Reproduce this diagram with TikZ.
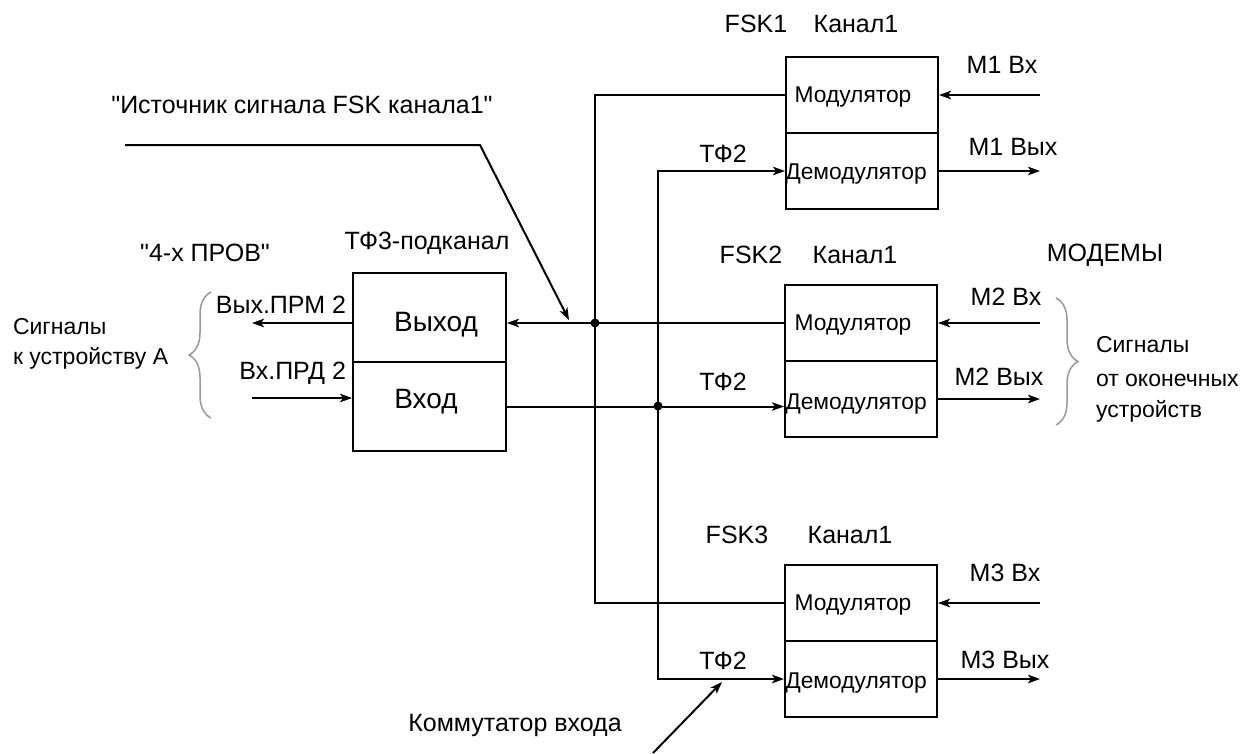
\documentclass[tikz,border=0pt]{standalone}
\usepackage{fontspec}
\setmainfont{Liberation Sans}[Ligatures=TeXOff]
\usetikzlibrary{arrows.meta,decorations.pathreplacing}
\begin{document}
\begin{tikzpicture}[x=1pt,y=-1pt,line width=2pt,
  >={Stealth[length=12pt,width=8.5pt,inset=3pt]},
  lbl/.style={font=\fontsize{25}{29}\selectfont,inner sep=0pt},
  side/.style={font=\fontsize{23}{27}\selectfont,inner sep=0pt},
  big/.style={font=\fontsize{28}{32}\selectfont,inner sep=0pt},
  mod/.style={font=\fontsize{22.8}{26}\selectfont,inner sep=0pt},
  half/.style={draw,minimum width=152pt,minimum height=76pt,inner sep=0pt},
  thalf/.style={draw,minimum width=153pt,minimum height=89pt,inner sep=0pt},
  dot/.style={circle,fill=black,minimum size=9pt,inner sep=0pt},
  bracegray/.style={draw=black!40,line width=1.5pt,decorate,decoration={brace,amplitude=22pt}}]
\useasboundingbox[fill=white] (0,0) rectangle (1247,753);

% ---- FSK blocks
\node[half] (m1) at (862,95) {};
\node[half] (d1) at (862,171) {};
\node[half] (m2) at (861,323) {};
\node[half] (d2) at (861,399) {};
\node[half] (m3) at (861,603) {};
\node[half] (d3) at (861,679) {};
\foreach \n/\y in {1/97,2/325,3/605}{\node[mod] (mt\n) at (853,\y) {Модулятор};}
\foreach \n/\y in {1/174,2/404,3/683}{\node[mod] (dt\n) at (856,\y) {Демодулятор};}

% ---- TF3 block
\node[thalf] (vout) at (429.5,317.5) {};
\node[thalf] (vin) at (429.5,406.5) {};
\node[big] (voutt) at (436,325) {Выход};
\node[big] (vint) at (426,402) {Вход};

% ---- junctions
\node[dot] (jA) at (595,323) {};
\node[dot] (jB) at (658,406) {};

% ---- buses
\draw (m1.west) -| (jA.center) |- (m3.west);
\draw[->] (m2.west) -- (m2.west -| vout.east);
\draw[->] (vin.east) -- (vin.east -| d2.west);
\draw[->] (jB.center) |- (d1.west);
\draw[->] (jB.center) |- (d3.west);

% ---- left side arrows
\coordinate (lo) at (252,323);
\coordinate (li) at (252,398);
\draw[->] (vout.west |- lo) -- (lo);
\draw[->] (li) -- (li -| vin.west);

% ---- right side arrows
\coordinate (r1) at (1040,95);
\coordinate (r2) at (1040,323);
\coordinate (r3) at (1040,603);
\coordinate (o1) at (1040,171);
\coordinate (o2) at (1040,399);
\coordinate (o3) at (1040,679);
\draw[->] (r1) -- (r1 -| m1.east);
\draw[->] (r2) -- (r2 -| m2.east);
\draw[->] (r3) -- (r3 -| m3.east);
\draw[->] (d1.east) -- (o1);
\draw[->] (d2.east) -- (o2);
\draw[->] (d3.east) -- (o3);

% ---- source arrow
\coordinate (s0) at (125,145);
\coordinate (s1) at (480,145);
\coordinate (s2) at (569,320);
\draw[->] (s0) -- (s1) -- (s2);

% ---- commutator arrow
\coordinate (k0) at (653,753);
\coordinate (k1) at (722,682);
\draw[->] (k0) -- (k1);

% ---- braces
\coordinate (lb0) at (211,418);
\coordinate (lb1) at (211,292);
\draw[bracegray] (lb0) -- (lb1);
\coordinate (rb0) at (1056,298);
\coordinate (rb1) at (1056,425);
\draw[bracegray] (rb0) -- (rb1);

% ---- labels
\node[lbl] (src) at (302,105) {"Источник сигнала FSK канала1"};
\node[lbl] (prov) at (205,253) {"4-х ПРОВ"};
\node[lbl] (tf3) at (427,243) {ТФ3-подканал};
\node[lbl,anchor=east] (vprm) at (347,305) {Вых.ПРМ 2};
\node[lbl,anchor=east] (vprd) at (347,373) {Вх.ПРД 2};
\node[side,anchor=west] (sgl) at (12,327) {Сигналы};
\node[side,anchor=west] (sgl2) at (12,358) {к устройству А};

\node[lbl] (f1) at (756,24) {FSK1};
\node[lbl] (k1l) at (856,24) {Канал1};
\node[lbl] (f2) at (751,255) {FSK2};
\node[lbl] (k2l) at (855,255) {Канал1};
\node[lbl] (f3) at (737,535) {FSK3};
\node[lbl] (k3l) at (850,535) {Канал1};

\node[lbl] (tfa) at (723,154) {ТФ2};
\node[lbl] (tfb) at (723,382) {ТФ2};
\node[lbl] (tfc) at (723,661) {ТФ2};

\node[lbl] (m1i) at (1002,65) {М1 Вх};
\node[lbl] (m1o) at (1013,147) {М1 Вых};
\node[lbl] (m2i) at (1006,297) {М2 Вх};
\node[lbl] (m2o) at (999,377) {М2 Вых};
\node[lbl] (m3i) at (1005,573) {М3 Вх};
\node[lbl] (m3o) at (1005,660) {М3 Вых};

\node[lbl] (modems) at (1105,255) {МОДЕМЫ};
\node[side,anchor=west] (sr1) at (1095,345) {Сигналы};
\node[side,anchor=west] (sr2) at (1095,380) {от оконечных};
\node[side,anchor=west] (sr3) at (1095,411) {устройств};

\node[lbl] (komm) at (515,725) {Коммутатор входа};
\end{tikzpicture}
\end{document}
